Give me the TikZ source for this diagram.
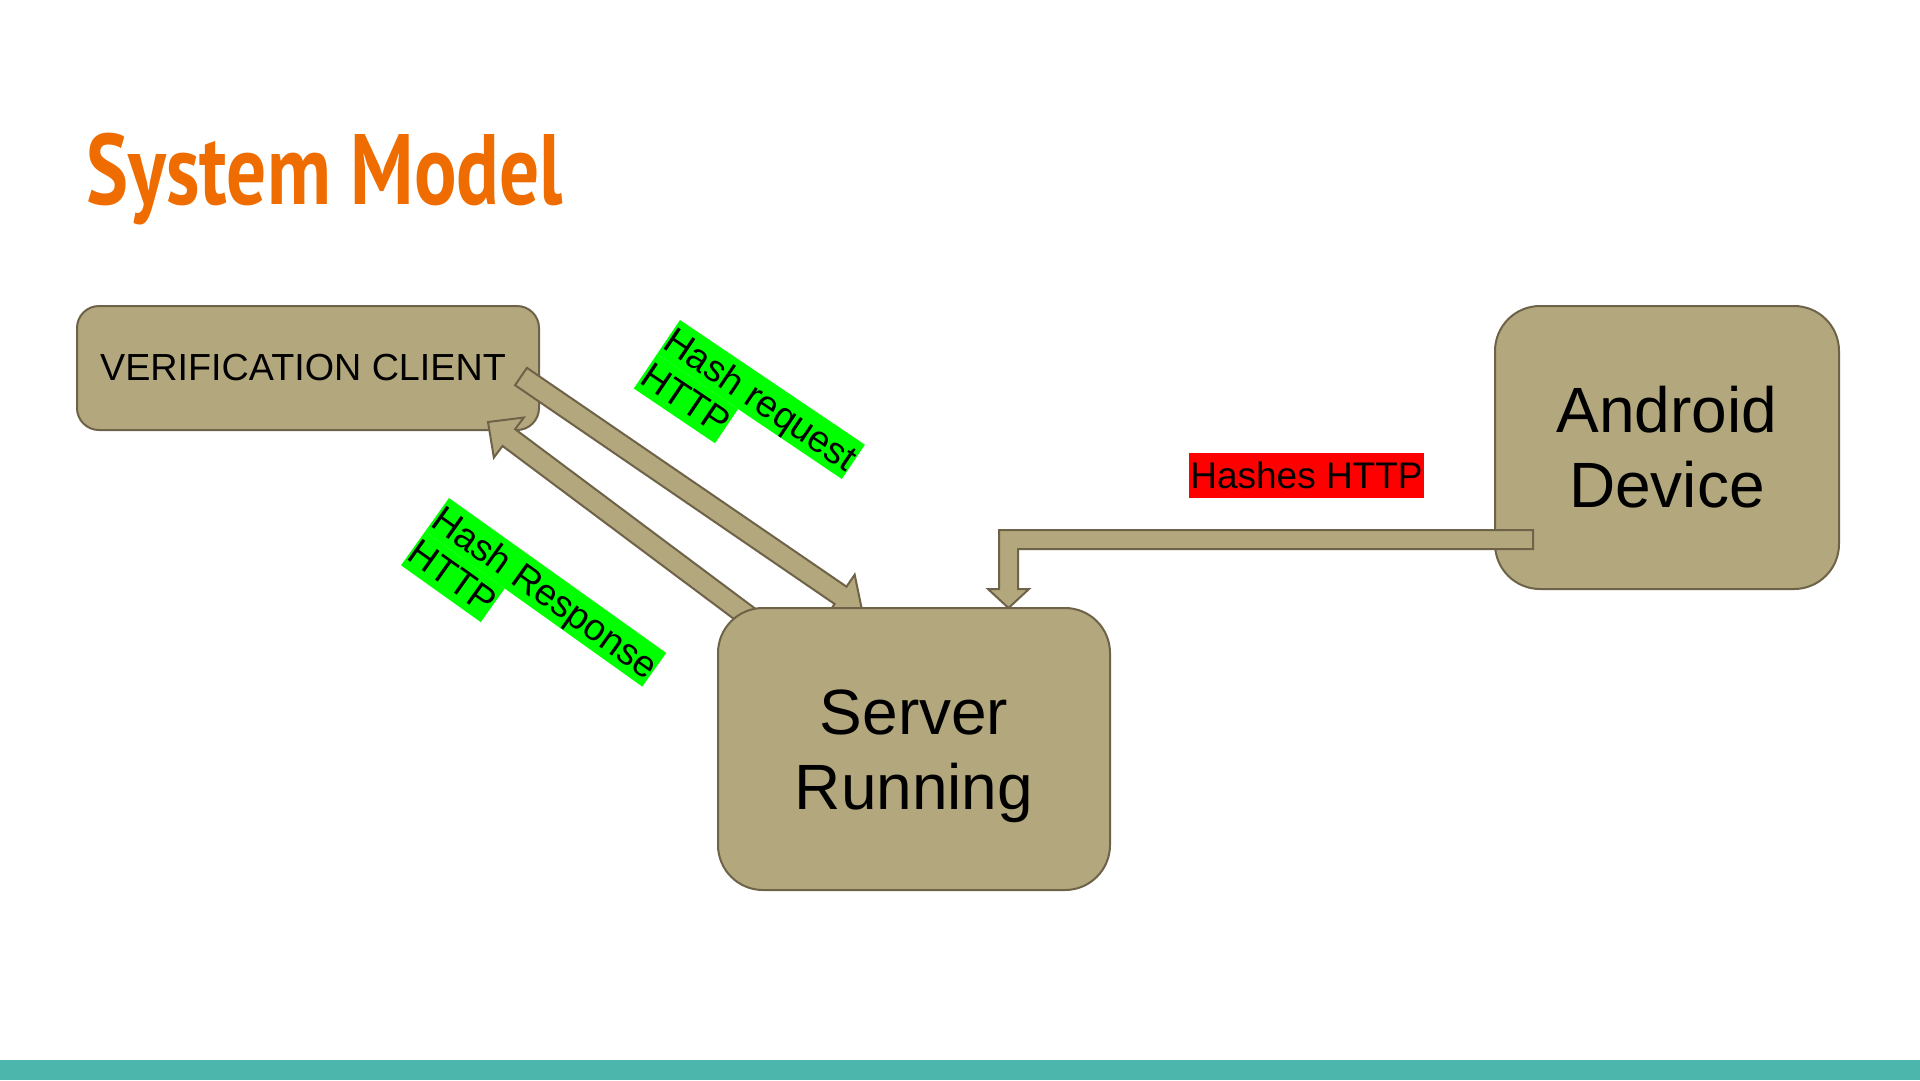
\documentclass[tikz,border=0pt]{standalone}
\usepackage{fontspec}
\setmainfont{Liberation Sans}
\newfontfamily\titlefont{PT Sans}
\usetikzlibrary{calc}
\definecolor{boxfill}{HTML}{B3A77D}
\definecolor{boxline}{HTML}{6E6248}
\definecolor{titleorange}{HTML}{EF6C00}
\definecolor{barteal}{HTML}{4DB6AC}
\definecolor{hlgreen}{HTML}{00FF00}
\definecolor{hlred}{HTML}{FF0000}
\tikzset{
  boxnode/.style={draw=boxline, fill=boxfill, line width=2pt, inner sep=0pt, outer sep=0pt},
  smalltext/.style={font=\fontsize{37}{42}\selectfont},
  vctext/.style={font=\fontsize{37.7}{43}\selectfont},
  bigtext/.style={font=\fontsize{64}{75}\selectfont, align=center},
  arrowbody/.style={draw=boxline, fill=boxfill, line width=2pt, line join=miter},
  hl/.style={fill=hlgreen, inner sep=0pt, outer sep=0pt, text height=33.5pt, text depth=7.8pt, font=\fontsize{37.5}{42}\selectfont, anchor=north west},
}
\newcommand{\blkarrow}[2]{%
  \coordinate (ba-base) at ($(#2)!26pt!(#1)$);
  \filldraw[arrowbody] ($(#1)!10.5pt!90:(#2)$) -- ($(ba-base)!10.5pt!90:(#2)$) -- ($(ba-base)!25pt!90:(#2)$) -- (#2) -- ($(ba-base)!25pt!-90:(#2)$) -- ($(ba-base)!10.5pt!-90:(#2)$) -- ($(#1)!10.5pt!-90:(#2)$) -- cycle;}
\begin{document}
\begin{tikzpicture}[x=1pt, y=-1pt]
\useasboundingbox (0,0) rectangle (1920,1080);
\fill[white] (0,0) rectangle (1920,1080);
% bottom bar
\fill[barteal] (0,1060) rectangle (1920,1080);
% title
\node[anchor=base west, inner sep=0pt, text=titleorange] (title) at (86,204)
  {\resizebox{477pt}{\height}{\titlefont\bfseries\fontsize{100}{100}\selectfont System Model}};
% boxes
\node[boxnode, vctext, rounded corners=22pt, minimum width=462pt, minimum height=124pt] (vc) at (308,368) {VERIFICATION CLIENT\rule{10pt}{0pt}};
\node[boxnode, bigtext, rounded corners=45pt, minimum width=344pt, minimum height=283pt] (android) at (1667,447.5) {Android\\Device};
\path (914,749) coordinate (server-c);
% arrows
\coordinate (rq-tail) at ($(vc.east)+(-18,8.5)$);
\coordinate (rq-tip) at (862,610);
\blkarrow{rq-tail}{rq-tip}
\coordinate (rs-tail) at (789,647);
\coordinate (rs-tip) at ($(vc.south east)+(-51,-8)$);
\blkarrow{rs-tail}{rs-tip}
\coordinate (e1) at ($(android.west)+(38,92)$);
\coordinate (e2) at (1008.5,608);
\filldraw[arrowbody] ($(e1)+(0,-9.5)$) -- ($(e2|-e1)+(-9.5,-9.5)$) -- ($(e2)+(-9.5,-19)$) -- ($(e2)+(-20.5,-19)$) -- (e2)
  -- ($(e2)+(20.5,-19)$) -- ($(e2)+(9.5,-19)$) -- ($(e2|-e1)+(9.5,9.5)$) -- ($(e1)+(0,9.5)$) -- cycle;
% server box on top
\node[boxnode, rounded corners=45pt, minimum width=392pt, minimum height=282pt] (server) at (server-c) {};
\node[bigtext, inner sep=0pt] (server-label) at ($(server.center)+(0,7)$) {Server\\Running};
% labels
\node[hl, rotate=-34] (req1) at (680,320) {Hash request};
\node[hl, rotate=-34] (req2) at (req1.south west) {HTTP};
\node[hl, rotate=-35.5] (rsp1) at (449,498) {Hash Response};
\node[hl, rotate=-35.5] (rsp2) at (rsp1.south west) {HTTP};
\node[fill=hlred, inner xsep=1pt, inner ysep=2pt, text height=33.5pt, text depth=7.8pt, smalltext] (hashes) at (1306.5,475.5) {Hashes HTTP};
\end{tikzpicture}
\end{document}
